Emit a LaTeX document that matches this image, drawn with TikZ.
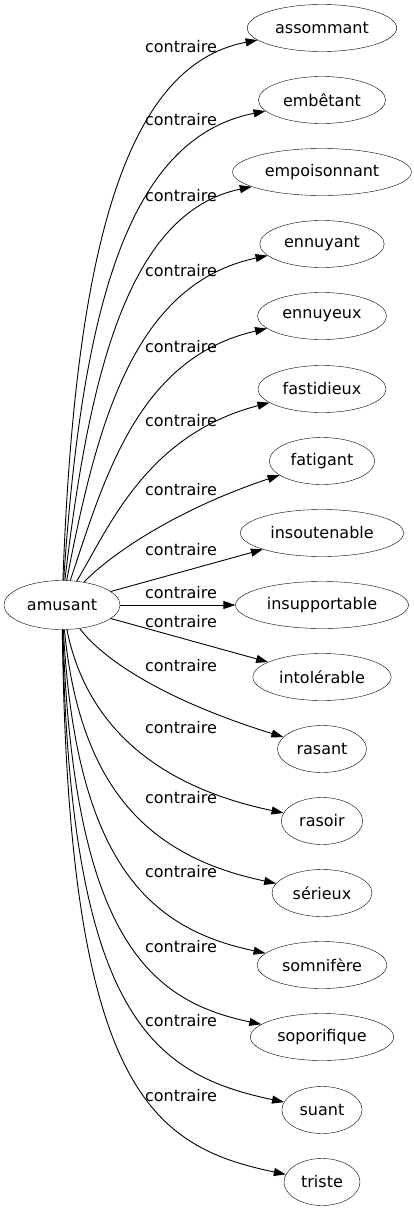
\documentclass[tikz,border=0pt]{standalone}
\usepackage{fontspec}
\setmainfont{DejaVu Sans}
\usetikzlibrary{arrows.meta,shapes.geometric}

\begin{document}
\begin{tikzpicture}[
          x=1pt, y=-1pt,
          every node/.style={font=\fontsize{16}{19}\selectfont},
          root/.style={draw, ellipse, inner xsep=6pt, inner ysep=0pt, minimum height=49pt},
          word/.style={draw, ellipse, inner xsep=6pt, inner ysep=0pt, minimum height=47pt},
          tag/.style={inner sep=0pt},
          rel/.style={-{Triangle[length=12pt,width=8pt]}, line width=0.9pt}
      ]
        \useasboundingbox (0,0) rectangle (414,1211);
        \node[root] (am) at (62,605) {amusant};
        % right column
        \node[word] (w1) at (322,28) {assommant};
        \node[word] (w2) at (322,100) {embêtant};
        \node[word] (w3) at (322,172) {empoisonnant};
        \node[word] (w4) at (322,244) {ennuyant};
        \node[word] (w5) at (322,316) {ennuyeux};
        \node[word] (w6) at (322,389) {fastidieux};
        \node[word] (w7) at (322,461) {fatigant};
        \node[word] (w8) at (322,533) {insoutenable};
        \node[word] (w9) at (322,605) {insupportable};
        \node[word] (w10) at (322,677) {intolérable};
        \node[word] (w11) at (322,749) {rasant};
        \node[word] (w12) at (322,821) {rasoir};
        \node[word] (w13) at (322,893) {sérieux};
        \node[word] (w14) at (322,965) {somnifère};
        \node[word] (w15) at (322,1037) {soporifique};
        \node[word] (w16) at (322,1110) {suant};
        \node[word] (w17) at (322,1182) {triste};
        % edge labels
        \node[tag] (l1) at (181,47) {contraire};
        \node[tag] (l2) at (181,120) {contraire};
        \node[tag] (l3) at (181,196) {contraire};
        \node[tag] (l4) at (181,271) {contraire};
        \node[tag] (l5) at (181,347) {contraire};
        \node[tag] (l6) at (181,421) {contraire};
        \node[tag] (l7) at (181,490) {contraire};
        \node[tag] (l8) at (181,550) {contraire};
        \node[tag] (l9) at (181,593) {contraire};
        \node[tag] (l10) at (181,622) {contraire};
        \node[tag] (l11) at (181,666) {contraire};
        \node[tag] (l12) at (181,728) {contraire};
        \node[tag] (l13) at (181,798) {contraire};
        \node[tag] (l14) at (181,872) {contraire};
        \node[tag] (l15) at (181,947) {contraire};
        \node[tag] (l16) at (181,1021) {contraire};
        \node[tag] (l17) at (181,1096) {contraire};
        % edges
        \draw[rel] (am) .. controls (75,250) and (125,65) .. (w1);
        \draw[rel] (am) .. controls (82,307) and (128,138) .. (w2);
        \draw[rel] (am) .. controls (90,365) and (131,212) .. (w3);
        \draw[rel] (am) .. controls (97,422) and (134,284) .. (w4);
        \draw[rel] (am) .. controls (104,480) and (137,358) .. (w5);
        \draw[rel] (am) .. controls (108,530) and (145,435) .. (w6);
        \draw[rel] (am) .. controls (110,555) and (175,510) .. (w7);
        \draw[rel] (am) -- (w8);
        \draw[rel] (am) -- (w9);
        \draw[rel] (am) -- (w10);
        \draw[rel] (am) .. controls (105,662) and (170,702) .. (w11);
        \draw[rel] (am) .. controls (85,720) and (150,785) .. (w12);
        \draw[rel] (am) .. controls (80,790) and (150,857) .. (w13);
        \draw[rel] (am) .. controls (76,864) and (150,929) .. (w14);
        \draw[rel] (am) .. controls (73,939) and (150,1001) .. (w15);
        \draw[rel] (am) .. controls (70,1013) and (150,1074) .. (w16);
        \draw[rel] (am) .. controls (68,1088) and (150,1146) .. (w17);
      \end{tikzpicture}
\end{document}
